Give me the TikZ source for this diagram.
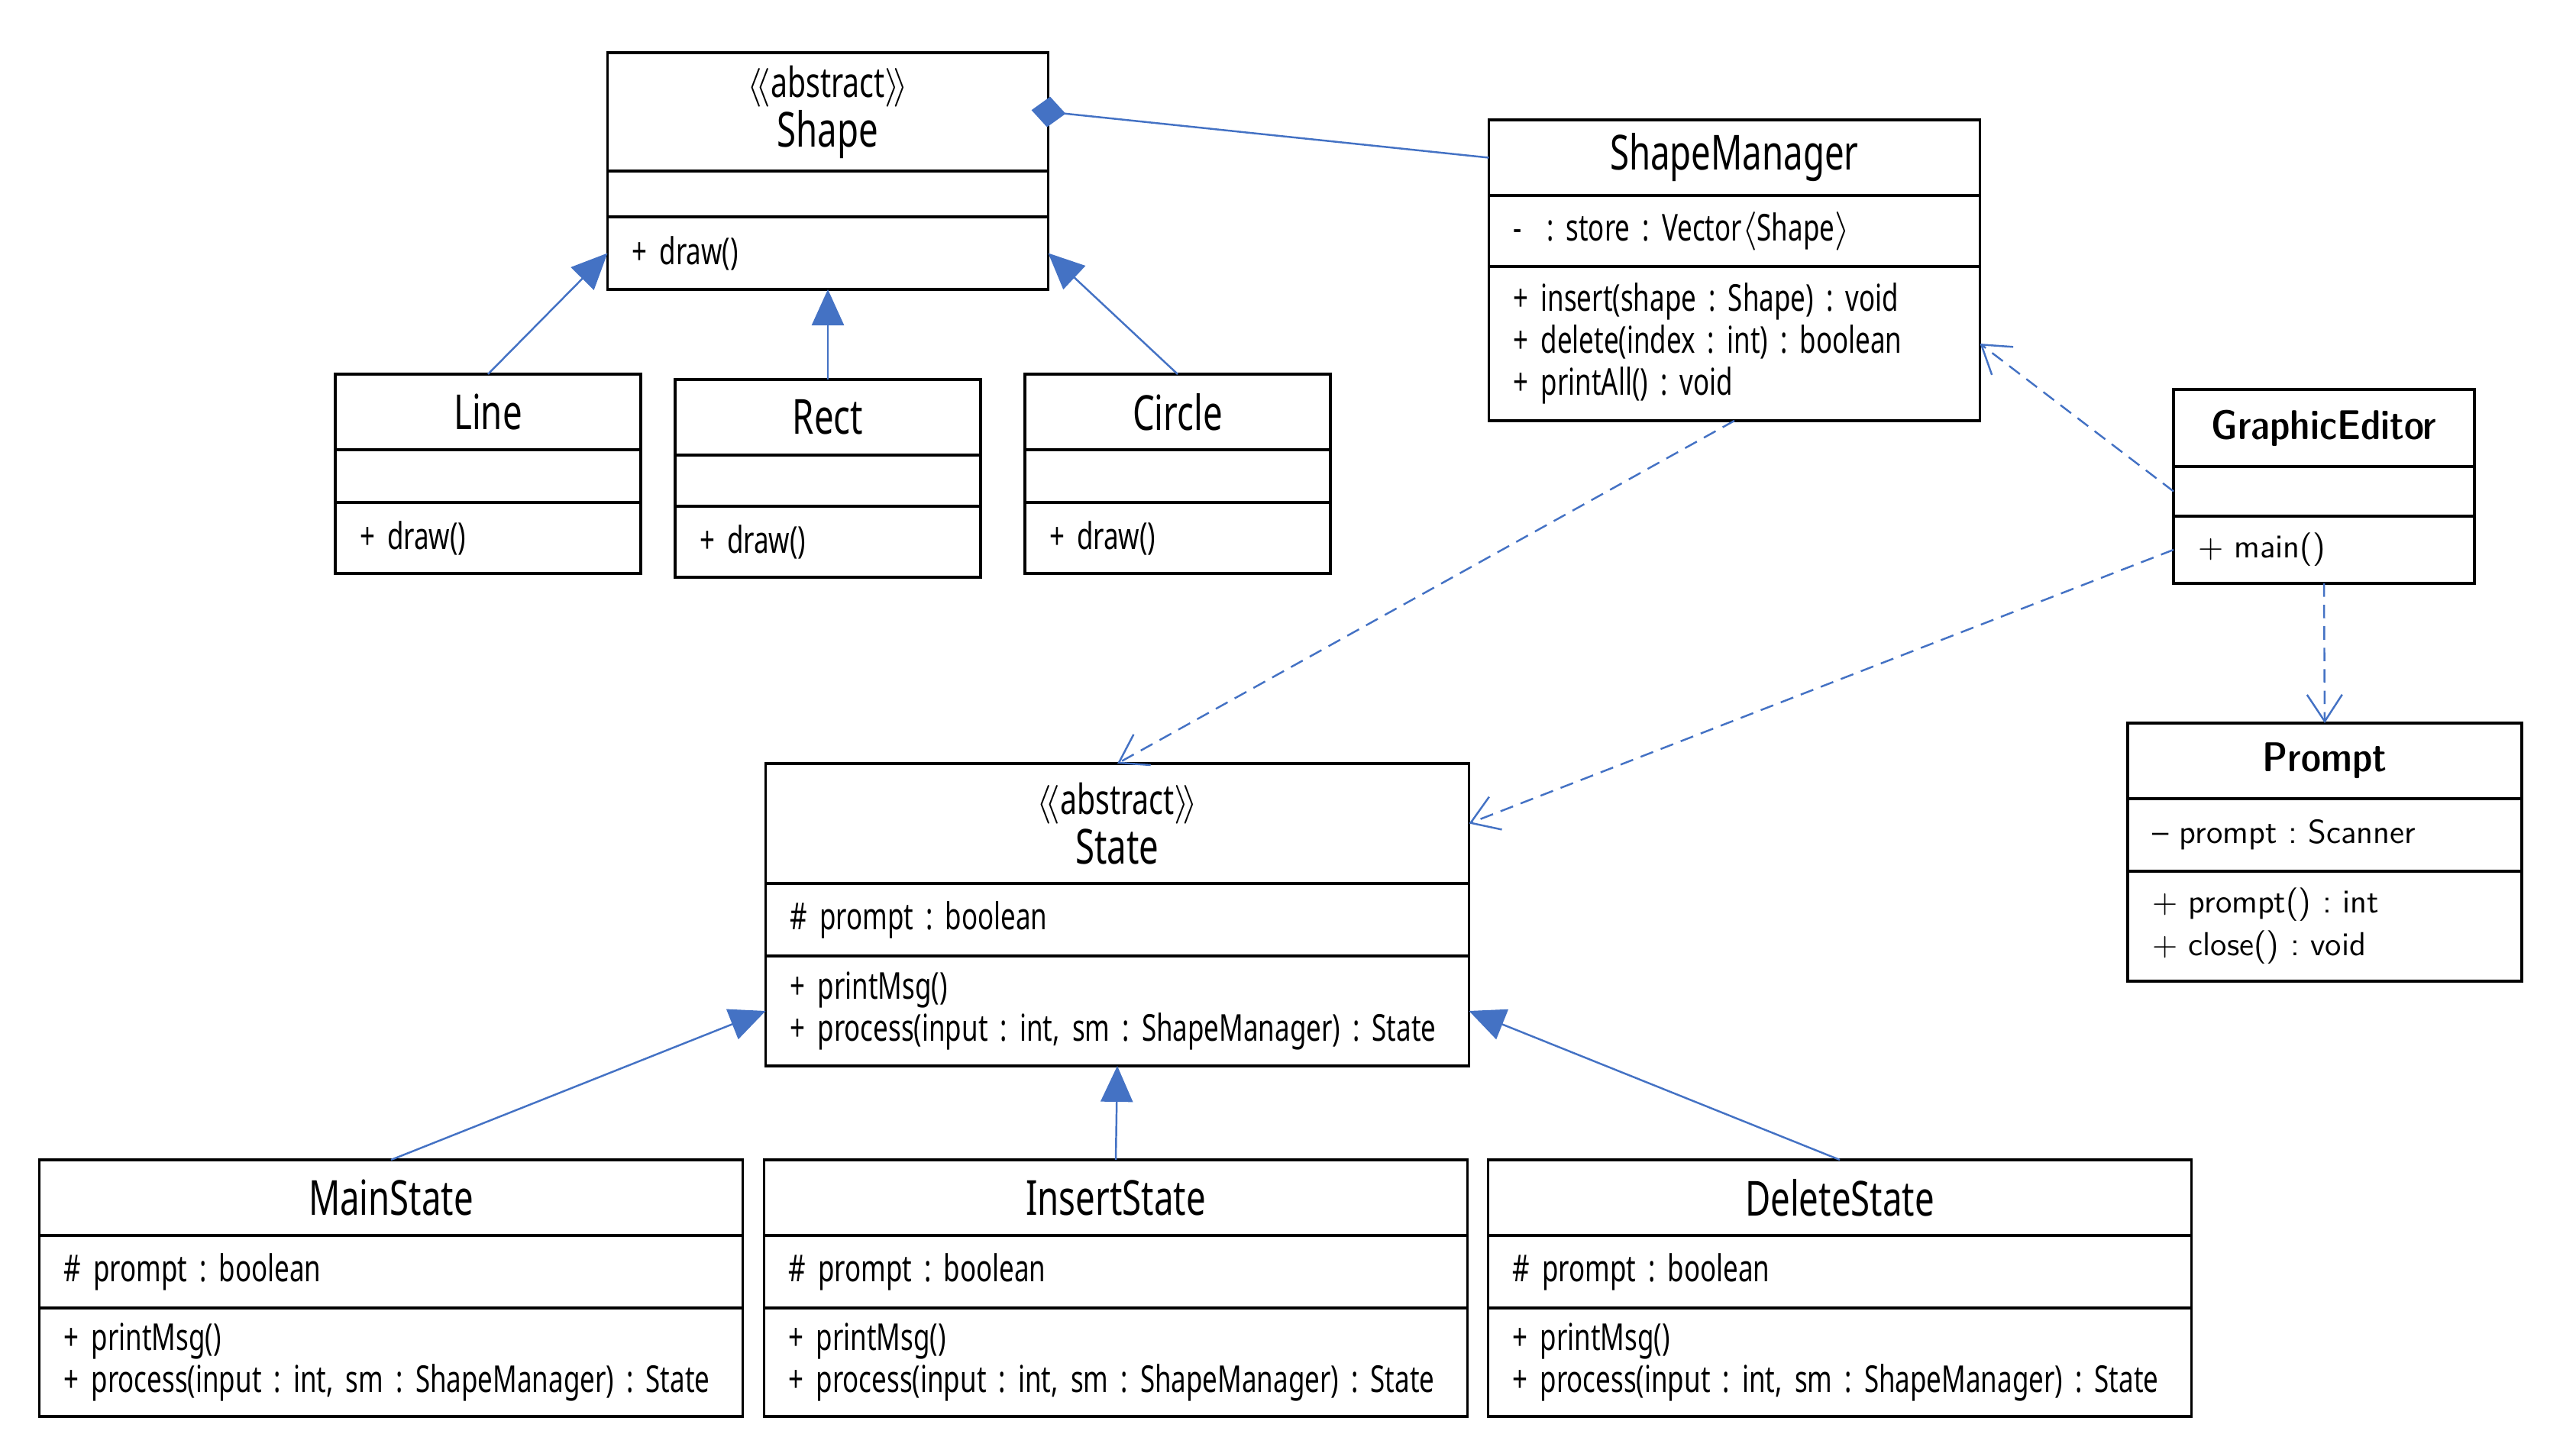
\documentclass[tikz,border=0pt]{standalone}
\usepackage{fontspec}
\usepackage{tikz}
\usetikzlibrary{arrows.meta,positioning}
\newfontfamily\umlfont{Noto Sans}[FakeStretch=0.72, WordSpace=0.6]
\definecolor{umlblue}{HTML}{4472C4}
\newcommand{\stereotype}[1]{{\fontsize{15.5}{17}\selectfont$\langle\!\langle$#1$\rangle\!\rangle$}}
\frenchspacing
\tikzset{
  compartment/.style={draw=black, line width=1.1pt, outer sep=0pt, inner xsep=0.32cm, inner ysep=0pt},
  classname/.style={compartment, anchor=north, align=center, font=\umlfont\fontsize{18}{18.5}\selectfont},
  members/.style={compartment, align=left, font=\umlfont\fontsize{13.8}{15.6}\selectfont},
  lmclassname/.style={compartment, anchor=north, align=center, font=\sffamily\fontseries{sbc}\fontsize{15.5}{17}\selectfont},
  lmmembers/.style={compartment, align=left, font=\sffamily\fontsize{12.4}{15.9}\selectfont},
  inherit/.style={umlblue, line width=0.7pt, -{Triangle[length=0.47cm, width=0.42cm]}},
  depend/.style={umlblue, line width=0.7pt, dash pattern=on 5pt off 3pt, -{Straight Barb[length=0.35cm, width=0.46cm]}},
  compose/.style={umlblue, line width=0.7pt, {Diamond[length=0.45cm, width=0.4cm]}-, shorten <=-0.22cm}
}
\begin{document}
\begin{tikzpicture}
  \useasboundingbox (0,0) rectangle (33.73,-18.99);
  % shape hierarchy
  \node[classname, text width=5.13cm, minimum height=1.55cm] (shape) at (10.84,-0.69) {\stereotype{abstract}\\Shape};
  \node[members, text width=5.13cm, minimum height=0.60cm, below=0pt of shape] (shapeattr) {};
  \node[members, text width=5.13cm, minimum height=0.95cm, below=0pt of shapeattr] (shapeops) {+ draw()};
  \node[classname, text width=3.36cm, minimum height=0.99cm] (line) at (6.39,-4.90) {Line};
  \node[members, text width=3.36cm, minimum height=0.69cm, below=0pt of line] (lineattr) {};
  \node[members, text width=3.36cm, minimum height=0.93cm, below=0pt of lineattr] (lineops) {+ draw()};
  \node[classname, text width=3.36cm, minimum height=0.99cm] (rect) at (10.84,-4.97) {Rect};
  \node[members, text width=3.36cm, minimum height=0.67cm, below=0pt of rect] (rectattr) {};
  \node[members, text width=3.36cm, minimum height=0.93cm, below=0pt of rectattr] (rectops) {+ draw()};
  \node[classname, text width=3.36cm, minimum height=0.99cm] (circle) at (15.42,-4.90) {Circle};
  \node[members, text width=3.36cm, minimum height=0.69cm, below=0pt of circle] (circleattr) {};
  \node[members, text width=3.36cm, minimum height=0.93cm, below=0pt of circleattr] (circleops) {+ draw()};
  % manager and editor
  \node[classname, text width=5.79cm, minimum height=0.99cm] (sm) at (22.71,-1.57) {ShapeManager};
  \node[members, text width=5.79cm, minimum height=0.93cm, below=0pt of sm] (smattr) {-\ \ : store : Vector$\langle$Shape$\rangle$};
  \node[members, text width=5.79cm, minimum height=2.02cm, below=0pt of smattr] (smops) {+ insert(shape : Shape) : void\\+ delete(index : int) : boolean\\+ printAll() : void};
  \node[lmclassname, text width=3.30cm, minimum height=1.01cm] (ge) at (30.43,-5.10) {GraphicEditor};
  \node[lmmembers, text width=3.30cm, minimum height=0.65cm, below=0pt of ge] (geattr) {};
  \node[lmmembers, text width=3.30cm, minimum height=0.88cm, below=0pt of geattr] (geops) {+ main()};
  \node[lmclassname, text width=4.52cm, minimum height=0.99cm] (prompt) at (30.44,-9.47) {Prompt};
  \node[lmmembers, text width=4.52cm, minimum height=0.95cm, below=0pt of prompt] (promptattr) {-- prompt : Scanner};
  \node[lmmembers, text width=4.52cm, minimum height=1.44cm, below=0pt of promptattr] (promptops) {+ prompt() : int\\+ close() : void};
  % state hierarchy
  \node[classname, text width=8.57cm, minimum height=1.57cm] (state) at (14.63,-10.00) {\stereotype{abstract}\\State};
  \node[members, text width=8.57cm, minimum height=0.95cm, below=0pt of state] (stateattr) {\# prompt : boolean};
  \node[members, text width=8.57cm, minimum height=1.44cm, below=0pt of stateattr] (stateops) {+ printMsg()\\+ process(input : int, sm : ShapeManager) : State};
  \node[classname, text width=8.57cm, minimum height=0.99cm] (mainstate) at (5.12,-15.19) {MainState};
  \node[members, text width=8.57cm, minimum height=0.95cm, below=0pt of mainstate] (mainstateattr) {\# prompt : boolean};
  \node[members, text width=8.57cm, minimum height=1.42cm, below=0pt of mainstateattr] (mainstateops) {+ printMsg()\\+ process(input : int, sm : ShapeManager) : State};
  \node[classname, text width=8.57cm, minimum height=0.99cm] (insertstate) at (14.61,-15.19) {InsertState};
  \node[members, text width=8.57cm, minimum height=0.95cm, below=0pt of insertstate] (insertstateattr) {\# prompt : boolean};
  \node[members, text width=8.57cm, minimum height=1.42cm, below=0pt of insertstateattr] (insertstateops) {+ printMsg()\\+ process(input : int, sm : ShapeManager) : State};
  \node[classname, text width=8.57cm, minimum height=0.99cm] (deletestate) at (24.09,-15.19) {DeleteState};
  \node[members, text width=8.57cm, minimum height=0.95cm, below=0pt of deletestate] (deletestateattr) {\# prompt : boolean};
  \node[members, text width=8.57cm, minimum height=1.42cm, below=0pt of deletestateattr] (deletestateops) {+ printMsg()\\+ process(input : int, sm : ShapeManager) : State};
  % relations
  \draw[compose] (shape.east) -- (sm.west);
  \draw[inherit] (line.north) -- (shapeops.west);
  \draw[inherit] (rect.north) -- (shapeops.south);
  \draw[inherit] (circle.north) -- (shapeops.east);
  \draw[depend] (smops.south) -- (state.north);
  \draw[depend] (geattr.west) -- (smops.east);
  \draw[depend] (geops.west) -- (state.east);
  \draw[depend] (geops.south) -- (prompt.north);
  \draw[inherit] (mainstate.north) -- (stateops.west);
  \draw[inherit] (insertstate.north) -- (stateops.south);
  \draw[inherit] (deletestate.north) -- (stateops.east);
\end{tikzpicture}
\end{document}
